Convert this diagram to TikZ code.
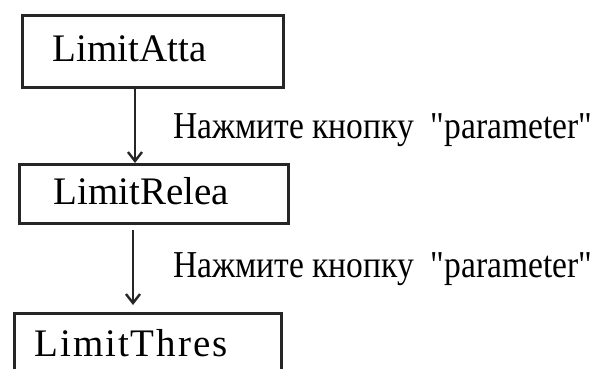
\documentclass[tikz,border=0pt]{standalone}
\usepackage{fontspec}
\setmainfont{Liberation Serif}[Ligatures=TeXOff]
\usepackage{graphicx}
\usetikzlibrary{arrows.meta}

\tikzset{
  stepbox/.style={draw=black!85, line width=3pt, anchor=north west, align=left,
    inner ysep=0pt, font=\fontsize{39}{45}\selectfont},
  flow/.style={draw=black!85, line width=2.4pt, -{Straight Barb[length=9pt,width=14pt]}},
  hint/.style={anchor=base west, inner sep=0pt, font=\fontsize{38}{44}\selectfont}
}
\newcommand{\presshint}{\resizebox{419pt}{\height}{Нажмите кнопку\ \ "parameter"}}

\begin{document}
\begin{tikzpicture}[x=1pt,y=-1pt]
      \clip (0,0) rectangle (597,368);
      \node[stepbox, inner xsep=30pt, text width=201pt, minimum height=72pt, text depth=6.6pt] (atta) at (21,14) {LimitAtta};
      \node[stepbox, inner xsep=34pt, text width=201pt, minimum height=59pt, text depth=5.6pt] (relea) at (18,163) {LimitRelea};
      \node[stepbox, inner xsep=20pt, text width=227pt, minimum height=60pt] (thres) at (13,312) {\addfontfeature{LetterSpace=5}LimitThres};
      \coordinate (a1) at (135,0);
      \coordinate (a2) at (133,0);
      \draw[flow] (atta.south -| a1) -- (relea.north -| a1);
      \draw[flow, shorten <=5pt, shorten >=7pt] (relea.south -| a2) -- (thres.north -| a2);
      \node[hint] (hint1) at (173,138) {\presshint};
      \node[hint] (hint2) at (173,277) {\presshint};
\end{tikzpicture}
\end{document}
